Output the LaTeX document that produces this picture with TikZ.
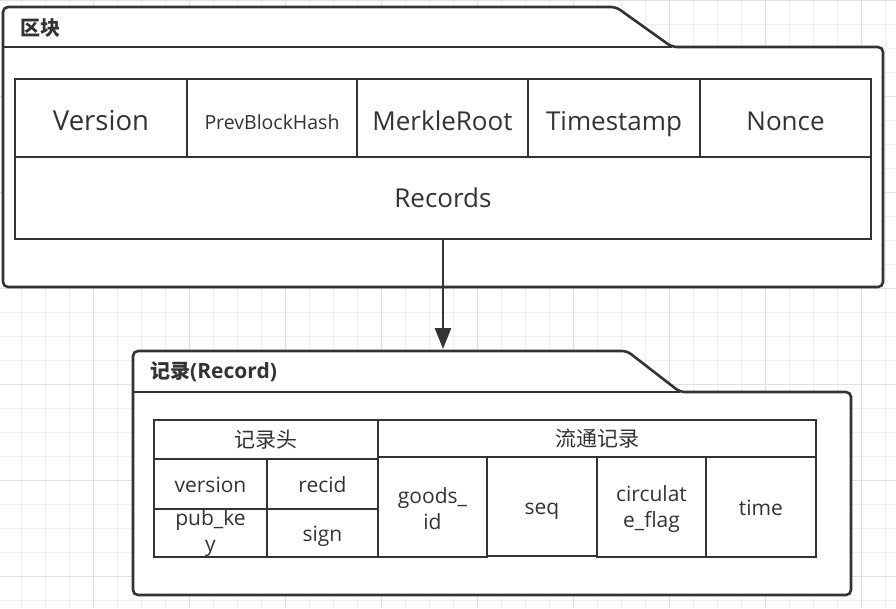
\documentclass[tikz,border=0pt]{standalone}
\usepackage{fontspec}
\setmainfont{Open Sans}
\newfontfamily\cjkfont{Noto Sans CJK SC}
\usetikzlibrary{arrows.meta}

\definecolor{linec}{HTML}{333333}
\definecolor{gridminor}{HTML}{EFEFEF}
\definecolor{gridmajor}{HTML}{E0E0E0}

\newcommand{\topstrut}[1][20pt]{\rule{0pt}{#1}}

\begin{document}
\begin{tikzpicture}[x=1pt, y=-1pt,
    pkg/.style={draw=linec, line width=2.6pt, fill=white, rounded corners=5pt},
    cell/.style={rectangle, draw=linec, line width=2.6pt, fill=white, inner sep=0pt, align=center, text=linec},
    bigtext/.style={font=\fontsize{26}{30}\selectfont, text height=26pt, text depth=2pt},
    midtext/.style={font=\fontsize{19.5}{24}\selectfont, text height=23pt, text depth=1pt},
    smalltext/.style={font=\fontsize{21}{26}\selectfont},
    oneline/.style={smalltext, text height=16pt, text depth=0pt},
    cjktext/.style={font=\fontsize{21}{26}\selectfont\cjkfont},
    title/.style={anchor=west, inner sep=0pt, text=linec, font=\fontsize{20}{24}\selectfont\bfseries},
    arrow/.style={-{Triangle[length=21pt, width=16pt]}, draw=linec, line width=2.6pt}
]
\useasboundingbox (0,0) rectangle (896,608);

% Grid
\foreach \gx in {0,...,36}
    \draw[gridminor, line width=1pt] (21.7+24*\gx,0) -- (21.7+24*\gx,608);
\foreach \gy in {0,...,25}
    \draw[gridminor, line width=1pt] (0,24*\gy) -- (896,24*\gy);
\foreach \gx in {0,...,8}
    \draw[gridmajor, line width=1pt] (93.7+96*\gx,0) -- (93.7+96*\gx,608);
\foreach \gy in {0,...,6}
    \draw[gridmajor, line width=1pt] (0,96*\gy) -- (896,96*\gy);

% Block package
\draw[pkg] (3,47) -- (3,7) -- (616,7) -- (672,47) -- (883,47) -- (883,287) -- (3,287) -- cycle;
\draw[linec, line width=2.6pt] (3,47) -- (672,47);
\node[title] (blocktitle) at (20,28) {\cjkfont\bfseries 区块};

\node[cell, bigtext, minimum width=172, minimum height=78] (version)    at (101,118)   {\fontsize{27.5}{30}\selectfont Version};
\node[cell, midtext, minimum width=170, minimum height=78] (prevhash)   at (272,118)   {PrevBlockHash};
\node[cell, bigtext, minimum width=171, minimum height=78] (merkle)     at (442.5,118) {MerkleRoot};
\node[cell, bigtext, minimum width=172, minimum height=78] (timestamp)  at (614,118)   {Timestamp};
\node[cell, bigtext, minimum width=171, minimum height=78] (nonce)      at (785.5,118) {Nonce};
\node[cell, font=\fontsize{26}{30}\selectfont, minimum width=856, minimum height=82] (records) at (443,198) {Records};

% Record package
\draw[pkg] (133,392) -- (133,351) -- (627,351) -- (680,392) -- (851,392) -- (851,595) -- (133,595) -- cycle;
\draw[linec, line width=2.6pt] (133,392) -- (680,392);
\node[title] (rectitle) at (150,372) {{\cjkfont\bfseries 记录}\fontsize{21}{24}\selectfont(Record)};

\node[cell, cjktext, minimum width=224, minimum height=39]    (rhead)   at (266,439.5) {记录头};
\node[cell, oneline, minimum width=113, minimum height=50]    (rver)    at (210.5,484) {version};
\node[cell, oneline, minimum width=111, minimum height=50]    (recid)   at (322.5,484) {recid};
\node[cell, smalltext, minimum width=113, minimum height=48]  (pubkey)  at (210.5,533) {\topstrut[17pt]pub\_ke\\y};
\node[cell, oneline, minimum width=111, minimum height=48]    (sign)    at (322.5,533) {sign};

\node[cell, cjktext, minimum width=438, minimum height=37]    (chead)   at (597,438.5) {流通记录};
\node[cell, smalltext, minimum width=109, minimum height=100] (goods)   at (432.5,507) {\topstrut goods\_\\id};
\node[cell, oneline, minimum width=110, minimum height=99]    (seq)     at (542,506.5) {seq};
\node[cell, smalltext, minimum width=109, minimum height=100] (cflag)   at (651.5,507) {\topstrut circulat\\e\_flag};
\node[cell, oneline, minimum width=110, minimum height=100]   (rtime)   at (761,507)   {time};

% Edges
\coordinate (rectab) at (443,349);
\draw[arrow] (records.south) -- (rectab);

\end{tikzpicture}
\end{document}
